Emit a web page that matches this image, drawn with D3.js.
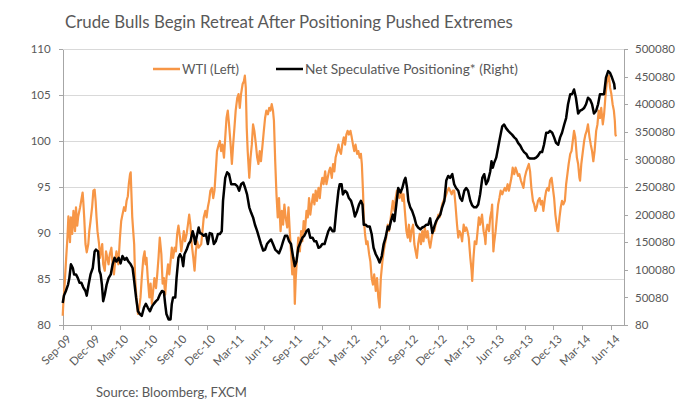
<!DOCTYPE html>
<html><head><meta charset="utf-8">
<script src="https://cdn.jsdelivr.net/npm/d3@7"></script>
<style>
body{margin:0;background:#fff}
svg{display:block}
text{font-family:Lato,"Open Sans",sans-serif;fill:#595959}
</style>
</head><body>
<svg id="chart" width="680" height="417"></svg>
<script>
// ---------------- DATA ----------------
const chartTitle = "Crude Bulls Begin Retreat After Positioning Pushed Extremes";
const sourceNote = "Source: Bloomberg, FXCM";
const seriesNames = ["WTI (Left)", "Net Speculative Positioning* (Right)"];
const startDate = "2009-09-01"; // day 0 of the series below
const xTickLabels = ["Sep-09","Dec-09","Mar-10","Jun-10","Sep-10","Dec-10","Mar-11","Jun-11","Sep-11","Dec-11","Mar-12","Jun-12","Sep-12","Dec-12","Mar-13","Jun-13","Sep-13","Dec-13","Mar-14","Jun-14"];
const leftTicks = [80,85,90,95,100,105,110];
const rightTicks = [80,50080,100080,150080,200080,250080,300080,350080,400080,450080,500080];

// WTI price: [days since startDate, price]
const wtiData = [
[0,81.0],[3,83.0],[5,83.7],[11,87.3],[15,89.5],[18,91.8],[23,89.0],[26,91.7],[30,89.9],[34,92.4],
[39,90.2],[42,92.8],[46,90.8],[49,91.8],[55,92.8],[60,93.8],[63,94.4],[65,93.5],[68,91.7],[72,88.8],
[76,87.9],[81,88.8],[84,90.2],[88,91.3],[93,92.8],[97,94.6],[101,94.7],[104,93.5],[107,91.7],[110,90.2],
[115,88.8],[118,87.3],[121,88.0],[125,88.8],[128,86.6],[133,85.9],[137,88.0],[141,87.3],[145,86.6],[149,87.7],
[154,88.4],[158,86.6],[162,85.5],[166,86.9],[170,88.0],[176,86.6],[181,89.5],[185,91.3],[189,92.0],[194,92.8],
[198,92.4],[202,93.5],[206,94.0],[209,95.3],[213,96.4],[215,96.6],[217,94.6],[220,91.7],[223,90.2],[226,88.8],
[229,85.1],[234,82.6],[238,81.2],[242,81.9],[246,83.0],[250,85.1],[255,87.3],[259,88.0],[262,86.6],[265,87.3],
[269,85.1],[274,83.0],[278,84.5],[282,82.3],[286,83.7],[290,85.1],[295,84.0],[299,85.5],[303,87.3],[307,89.5],
[312,87.7],[316,84.5],[320,85.1],[324,83.3],[328,85.1],[333,86.6],[337,85.5],[341,86.9],[345,88.4],[349,87.3],
[354,88.4],[358,88.0],[362,89.9],[366,90.8],[371,89.5],[375,88.0],[379,89.1],[383,90.2],[387,89.1],[392,89.9],
[396,90.9],[400,92.0],[404,90.9],[408,88.8],[413,87.3],[417,85.9],[421,88.0],[425,89.1],[430,88.4],
[438,88.8],[442,90.2],[446,91.7],[451,92.4],[455,91.7],[459,92.8],[463,93.5],[467,94.6],[472,94.9],[476,93.8],
[480,94.6],[484,96.7],[488,98.9],[493,99.6],[497,100.0],[501,98.9],[505,99.6],[510,98.2],[514,100.4],[518,102.5],
[522,103.3],[526,101.8],[531,99.6],[535,97.5],[539,99.6],[543,101.4],[547,103.3],[552,104.7],[556,105.1],[560,103.6],
[564,105.1],[569,106.2],[573,106.5],[576,107.1],[579,105.8],[582,101.4],[585,98.9],[590,96.0],[594,98.2],[598,99.6],
[602,101.8],[606,101.1],[611,99.6],[615,98.2],[619,97.5],[623,98.9],[627,97.8],[632,99.6],[636,101.1],[640,102.5],
[644,103.3],[649,102.9],[653,103.6],[657,103.3],[661,104.0],[665,103.3],[668,102.2],[672,97.8],[676,94.2],[680,91.7],
[684,93.8],[689,90.2],[693,92.4],[697,90.9],[701,93.1],[705,91.7],[710,90.6],[714,92.8],[718,90.2],[722,88.0],
[726,85.5],[731,87.3],[734,82.3],[737,85.1],[741,87.3],[745,89.5],[750,88.0],[754,90.2],[758,89.1],[762,91.3],
[766,90.2],[771,92.4],[775,91.7],[779,93.8],[783,92.0],[787,93.1],[792,94.2],[796,93.1],[800,94.6],[804,93.5],
[809,94.9],[813,93.8],[817,95.3],[821,96.0],[825,95.3],[830,96.7],[834,95.3],[838,96.0],[842,96.7],[846,97.1],
[851,96.0],[855,97.5],[859,96.7],[863,98.2],[868,98.9],[872,99.6],[876,98.9],
[880,98.6],[884,99.6],[889,100.4],[893,99.6],[897,100.7],[901,101.1],[905,100.7],[910,101.1],[914,100.4],[918,99.6],
[922,98.9],[926,99.6],[931,98.6],[935,98.9],[939,98.2],[943,98.6],[946,97.5],[950,94.2],[952,91.7],[956,89.9],
[960,88.8],[964,89.1],[969,87.7],[973,86.9],[977,85.1],[981,84.4],[985,85.5],[990,83.7],[994,85.1],[998,83.0],
[1002,81.9],[1006,85.1],[1011,86.9],[1015,88.0],[1019,88.8],[1023,89.5],[1028,90.9],[1032,90.2],[1036,91.3],[1040,92.4],
[1044,93.5],[1049,92.4],[1053,93.8],[1057,94.6],[1061,94.2],[1065,93.8],[1070,94.6],[1074,93.5],[1078,94.2],[1082,92.4],
[1087,90.2],[1091,89.5],[1095,90.9],[1099,89.1],[1103,90.2],[1108,90.9],[1112,88.8],[1116,88.0],[1120,87.3],[1124,88.8],
[1129,89.9],[1133,88.8],[1137,90.2],[1141,89.1],[1145,90.6],[1150,89.5],[1154,90.2],[1158,89.1],[1162,88.4],[1167,89.5],
[1171,90.2],[1175,90.2],[1179,90.9],[1183,91.3],[1188,92.0],[1192,91.7],[1196,92.4],[1200,93.1],[1204,93.5],[1209,93.8],
[1213,94.2],[1217,94.6],[1221,94.9],[1225,94.6],[1230,94.2],[1234,94.6],[1238,94.6],[1242,93.1],[1247,90.9],[1251,89.5],
[1255,90.2],[1259,89.9],[1263,89.1],[1268,90.9],[1272,90.2],[1276,90.6],[1280,90.2],[1284,89.5],[1289,87.3],[1293,85.9],
[1295,84.8],[1299,87.3],[1303,89.1],[1308,88.8],[1312,90.2],[1316,91.7],[1320,90.9],
[1326,92.0],[1331,90.2],[1335,89.5],[1337,88.8],[1339,90.2],[1343,90.9],[1348,90.2],[1352,91.7],[1356,92.4],[1358,93.1],
[1360,90.2],[1362,88.0],[1364,88.8],[1369,90.2],[1373,91.7],[1377,93.1],[1381,93.8],[1385,94.6],[1390,94.2],[1394,94.6],
[1398,94.9],[1402,94.6],[1407,95.3],[1411,94.6],[1415,95.3],[1419,96.0],[1423,97.1],[1428,96.4],[1432,97.1],[1436,96.7],
[1440,96.2],[1444,96.4],[1449,95.7],[1453,95.3],[1457,94.9],[1461,96.0],[1466,96.7],[1470,97.1],[1474,97.5],[1478,96.7],
[1482,94.9],[1487,93.5],[1491,93.1],[1495,92.4],[1499,92.8],[1503,93.5],[1508,93.8],[1512,93.1],[1516,93.5],[1520,92.4],
[1525,93.8],[1529,94.6],[1533,94.9],[1537,94.6],[1541,95.7],[1546,96.0],[1550,94.9],[1554,93.8],[1558,92.0],[1562,90.9],
[1565,90.2],[1567,90.2],[1571,91.7],[1575,92.8],[1579,93.5],[1583,93.1],[1588,93.5],[1592,95.3],[1596,96.4],[1600,97.5],
[1605,98.6],[1609,98.9],[1613,100.0],[1617,101.1],[1621,100.4],[1626,98.2],[1630,97.5],[1634,96.0],[1636,95.7],[1640,97.5],
[1645,98.9],[1649,100.0],[1653,100.7],[1657,101.1],[1661,101.8],[1666,100.4],[1670,99.6],[1674,98.9],[1678,97.8],[1682,98.9],
[1687,101.1],[1691,101.8],[1695,103.3],[1699,102.5],[1703,103.6],[1708,101.8],[1712,102.9],[1716,104.7],[1720,106.2],[1724,106.9],
[1727,107.1],[1731,105.8],[1735,105.1],[1739,104.0],[1743,103.3],[1746,102.2],[1748,100.7],[1750,100.5]
];

// Net speculative positioning (contracts): [days since startDate, value]
const positioningData = [
[0,40000],[4,53300],[10,61700],[17,73300],[21,85000],[26,110000],[32,103300],[36,91700],[42,91700],[48,85000],
[53,76700],[59,76700],[65,68300],[72,61700],[76,53300],[82,73300],[88,91700],[95,103300],[101,133300],[105,136700],
[112,133300],[116,98300],[120,91700],[124,73300],[128,43300],[133,55000],[139,73300],[145,85000],[152,91700],[158,110000],
[164,121700],[170,115000],[177,121700],[183,111700],[189,125000],[196,118300],[202,121700],[208,115000],[215,110000],[221,103300],
[225,85000],[232,50000],[238,25000],[244,20000],[250,16700],[257,31700],[263,38300],[269,31700],[276,25000],[282,33300],
[288,38300],[295,43300],[301,46700],[307,55000],[314,61700],[320,60000],[324,38300],[328,20000],[335,10000],[341,10000],
[345,38300],[349,50000],[356,50000],[360,85000],[366,121700],[371,128300],[377,121700],[381,106700],[385,128300],[392,136700],
[398,146700],[404,151700],[411,170000],[415,161700],[419,146700],[423,158300],[430,176700],
[434,166700],[440,165000],[446,161700],[453,165000],[459,146700],[465,166700],[472,165000],[478,146700],[484,151700],[491,165000],
[497,165000],[503,170000],[507,225000],[514,266700],[520,276700],[526,273300],[533,255000],[539,255000],[545,255000],[552,251700],
[558,243300],[564,255000],[571,258300],[577,248300],[583,236700],[590,213300],[596,203300],[602,195000],[608,181700],[615,170000],
[621,158300],[627,146700],[634,135000],[640,136700],[646,146700],[653,151700],[659,155000],[665,146700],[672,136700],[678,133300],
[684,130000],[691,140000],[697,151700],[703,161700],[710,161700],[716,151700],[722,146700],[729,121700],[734,106700],[739,115000],
[745,140000],[752,150000],[758,158300],[764,161700],[771,170000],[777,173300],[783,158300],[790,158300],[796,151700],[802,151700],
[809,140000],[815,141700],[821,146700],[828,146700],[834,158300],[840,170000],[846,176700],[853,170000],[859,170000],[865,206700],
[872,243300],[876,255000],
[882,255000],[886,236700],[893,243300],[899,240000],[905,230000],[912,225000],[918,213300],[924,196700],[931,206700],[937,218300],
[943,225000],[948,218300],[952,181700],[958,181700],[964,178300],[971,178300],[977,165000],[983,140000],[990,128300],[996,121700],
[1002,113300],[1009,125000],[1015,146700],[1021,158300],[1028,178300],[1032,173300],[1038,188300],[1044,200000],[1049,188300],[1055,218300],
[1061,248300],[1068,240000],[1074,248300],[1080,261700],[1084,266700],[1089,248300],[1093,225000],[1099,213300],[1105,206700],[1112,195000],
[1118,181700],[1124,176700],[1131,173300],[1137,176700],[1143,178300],[1150,181700],[1156,181700],[1162,193300],[1169,166700],[1175,178300],
[1181,188300],[1188,195000],[1194,200000],[1200,213300],[1207,225000],[1213,261700],[1219,270000],[1225,266700],[1232,273300],[1238,255000],
[1244,248300],[1251,243300],[1257,230000],[1263,225000],[1270,243300],[1276,248300],[1282,243300],[1289,225000],[1295,216700],[1301,213300],
[1308,213300],[1314,218300],[1320,236700],[1327,266700],[1333,273300],
[1339,255000],[1345,261700],[1352,278300],[1356,296700],[1360,285000],[1364,293300],[1371,303300],[1377,321700],[1383,340000],[1390,360000],
[1396,363300],[1402,356700],[1409,351700],[1415,348300],[1421,345000],[1428,340000],[1434,336700],[1440,330000],[1447,325000],[1453,318300],
[1459,313300],[1466,310000],[1472,303300],[1478,301700],[1484,301700],[1491,301700],[1497,303300],[1503,306700],[1510,313300],[1516,313300],
[1522,326700],[1529,348300],[1535,348300],[1541,351700],[1548,348300],[1554,340000],[1560,330000],[1567,326700],[1573,340000],[1579,348300],
[1586,363300],[1592,375000],[1598,400000],[1605,418300],[1611,418300],[1617,426700],[1623,411700],[1630,383300],[1636,388300],[1642,390000],
[1649,393300],[1655,400000],[1661,411700],[1668,408300],[1674,400000],[1680,383300],[1687,388300],[1693,400000],[1699,418300],[1706,418300],
[1712,418300],[1718,448300],[1725,460000],[1731,456700],[1737,448300],[1744,436700],[1746,426700]
];

// ---------------- CHART ----------------
const svg = d3.select("#chart");
const plot = {left:62.7, right:624, top:49, bottom:325};
const base = d3.timeParse("%Y-%m-%d")(startDate);
const toDate = d => d3.timeDay.offset(base, d);
const parseTick = d3.timeParse("%b-%y");
const tickDates = xTickLabels.map(parseTick);

const x = d3.scaleTime().domain([base, new Date(2014,6,12)]).range([plot.left, plot.right]);
const yL = d3.scaleLinear().domain([80,110]).range([plot.bottom, plot.top]);
const yR = d3.scaleLinear().domain([80,500080]).range([plot.bottom, plot.top]);

const axisColor = "#a6a6a6";
const gridColor = "#d9d9d9";
const textColor = "#595959";

// gridlines
svg.append("g").selectAll("line").data(leftTicks.filter(t => t !== 80)).join("line")
  .attr("x1", plot.left).attr("x2", plot.right)
  .attr("y1", d => yL(d)).attr("y2", d => yL(d))
  .attr("stroke", gridColor).attr("stroke-width", 1).attr("shape-rendering","crispEdges");

function styleAxis(g){
  g.select(".domain").attr("stroke", axisColor).attr("shape-rendering","crispEdges");
  g.selectAll(".tick line").attr("stroke", axisColor).attr("shape-rendering","crispEdges");
  g.selectAll(".tick text").attr("fill", textColor).style("font-size","11.5px");
}

// left axis
svg.append("g").attr("transform", `translate(${plot.left},0)`)
  .call(d3.axisLeft(yL).tickValues(leftTicks).tickFormat(d3.format("d")).tickSize(4).tickSizeOuter(0).tickPadding(8))
  .call(styleAxis);

// right axis
svg.append("g").attr("transform", `translate(${plot.right},0)`)
  .call(d3.axisRight(yR).tickValues(rightTicks).tickFormat(d3.format("d")).tickSize(4).tickSizeOuter(0).tickPadding(7))
  .call(styleAxis);

// bottom axis
const gx = svg.append("g").attr("transform", `translate(0,${plot.bottom})`)
  .call(d3.axisBottom(x).tickValues(tickDates).tickFormat(d3.timeFormat("%b-%y")).tickSize(5).tickSizeOuter(0))
  .call(styleAxis);
gx.selectAll(".tick text")
  .attr("x", 0).attr("y", 0).attr("dy", "0.35em")
  .attr("text-anchor", "end")
  .attr("transform", "translate(6,12) rotate(-45)");

// lines
const lineL = d3.line().x(d => x(toDate(d[0]))).y(d => yL(d[1]));
const lineR = d3.line().x(d => x(toDate(d[0]))).y(d => yR(d[1]));

svg.append("path").datum(wtiData).attr("d", lineL)
  .attr("fill","none").attr("stroke","#f79646").attr("stroke-width",2.2)
  .attr("stroke-linejoin","round");
svg.append("path").datum(positioningData).attr("d", lineR)
  .attr("fill","none").attr("stroke","#000").attr("stroke-width",2.5)
  .attr("stroke-linejoin","round");

// fitting text helper
function fitText(sel, width){
  const w = sel.node().getComputedTextLength();
  const fs = parseFloat(sel.style("font-size"));
  sel.style("font-size", (fs * width / w) + "px");
}

// legend
const legend = [
  {name: seriesNames[0], color:"#f79646", x1:153, x2:180, tx:182, w:57},
  {name: seriesNames[1], color:"#000", x1:276, x2:303, tx:305, w:213}
];
legend.forEach(l => {
  svg.append("line").attr("x1", l.x1).attr("x2", l.x2).attr("y1", 69).attr("y2", 69)
    .attr("stroke", l.color).attr("stroke-width", 2.5);
  const t = svg.append("text").attr("x", l.tx).attr("y", 73.5).style("font-size","12px").attr("fill", textColor).text(l.name);
  fitText(t, l.w);
});

// title
const tt = svg.append("text").attr("x", 65).attr("y", 28).style("font-size","17px").attr("fill", textColor).text(chartTitle);
fitText(tt, 448);

// source
const st = svg.append("text").attr("x", 96).attr("y", 397).style("font-size","12.5px").attr("fill","#000").text(sourceNote);
fitText(st, 151);
</script>
</body></html>
